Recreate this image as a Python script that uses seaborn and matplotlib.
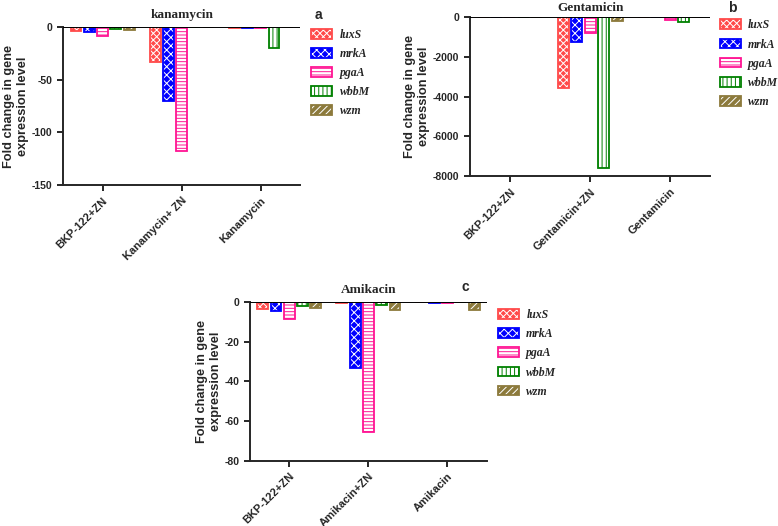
import pandas as pd
import matplotlib.pyplot as plt
import seaborn as sns
from matplotlib.patches import Patch, Rectangle
from matplotlib.legend_handler import HandlerTuple

sns.set_style("ticks")
plt.rcParams["font.family"] = ["Liberation Sans", "DejaVu Sans"]
plt.rcParams["hatch.linewidth"] = 0.7
plt.rcParams["axes.unicode_minus"] = False

genes = ["luxS", "mrkA", "pgaA", "wbbM", "wzm"]
gene_colors = ["#ff4a4a", "#0000ff", "#ff1493", "#008000", "#8c7a3c"]
gene_hatch = ["xxxxx", "xxxx", "-----", "||||", "/////"]
# True -> coloured fill with white hatch, False -> white fill with coloured hatch
gene_filled = [True, True, False, False, True]

# Panel a - kanamycin
kan_groups = ["BKP-122+ZN", "Kanamycin+ ZN", "Kanamycin"]
kan_luxS = [-3.5, -33.3, -1.0]
kan_mrkA = [-4.8, -69.8, -1.0]
kan_pgaA = [-8.3, -118.0, -1.0]
kan_wbbM = [-2.2, 0.0, -20.0]
kan_wzm = [-3.2, 0.0, -0.3]

# Panel b - Gentamicin
gen_groups = ["BKP-122+ZN", "Gentamicin+ZN", "Gentamicin"]
gen_luxS = [-25, -3590, -25]
gen_mrkA = [-25, -1265, -25]
gen_pgaA = [-25, -810, -135]
gen_wbbM = [-25, -7580, -235]
gen_wzm = [-25, -220, -25]

# Panel c - Amikacin
ami_groups = ["BKP-122+ZN", "Amikacin+ZN", "Amikacin"]
ami_luxS = [-3.5, -0.5, -0.2]
ami_mrkA = [-4.7, -33.3, -0.3]
ami_pgaA = [-8.4, -65.5, -0.3]
ami_wbbM = [-2.2, -1.8, -0.1]
ami_wzm = [-3.0, -3.9, -3.9]


def make_df(groups, series):
    rows = []
    for gene, vals in zip(genes, series):
        for g, v in zip(groups, vals):
            rows.append({"group": g, "gene": gene, "value": v})
    return pd.DataFrame(rows)


panels = [
    {
        "df": make_df(kan_groups, [kan_luxS, kan_mrkA, kan_pgaA, kan_wbbM, kan_wzm]),
        "groups": kan_groups, "title": "kanamycin", "ylim": (-150, 0), "pad": 6.5,
        "yticks": [-150, -100, -50, 0], "rect": [0.081, 0.648, 0.305, 0.301],
        "letter": ("a", 0.405, 0.972), "leg": (0.400, 0.945),
    },
    {
        "df": make_df(gen_groups, [gen_luxS, gen_mrkA, gen_pgaA, gen_wbbM, gen_wzm]),
        "groups": gen_groups, "title": "Gentamicin", "ylim": (-8000, 0), "pad": 4.0,
        "yticks": [-8000, -6000, -4000, -2000, 0], "rect": [0.604, 0.665, 0.309, 0.303],
        "letter": ("b", 0.936, 0.985), "leg": (0.925, 0.963),
    },
    {
        "df": make_df(ami_groups, [ami_luxS, ami_mrkA, ami_pgaA, ami_wbbM, ami_wzm]),
        "groups": ami_groups, "title": "Amikacin", "ylim": (-80, 0), "pad": 6.5,
        "yticks": [-80, -60, -40, -20, 0], "rect": [0.321, 0.124, 0.305, 0.302],
        "letter": ("c", 0.593, 0.455), "leg": (0.640, 0.412),
    },
]

fig = plt.figure(figsize=(7.78, 5.26), dpi=100)

for p in panels:
    ax = fig.add_axes(p["rect"])
    sns.barplot(data=p["df"], x="group", y="value", hue="gene", order=p["groups"],
                hue_order=genes, width=0.84, gap=0.18, errorbar=None, legend=False, ax=ax)

    # restyle each gene's bars: pattern + coloured outline
    for cont, col, hatch, filled in zip(ax.containers, gene_colors, gene_hatch, gene_filled):
        for bar in cont:
            if filled:
                bar.set_facecolor(col)
                bar.set_edgecolor("white")
            else:
                bar.set_facecolor("white")
                bar.set_edgecolor(col)
            bar.set_hatch(hatch)
            bar.set_linewidth(0)
            ax.add_patch(Rectangle(bar.get_xy(), bar.get_width(), bar.get_height(),
                                   fill=False, edgecolor=col, linewidth=1.3))

    ax.axhline(0, color="black", linewidth=1.4, zorder=5)
    ax.set_xlim(-0.5, 2.5)
    ax.set_ylim(*p["ylim"])
    ax.set_yticks(p["yticks"])
    ax.set_xlabel("")
    ax.set_ylabel("Fold change in gene\nexpression level", fontsize=9.2,
                  fontweight="bold", labelpad=2)
    ax.set_title(p["title"], family=["Liberation Serif"], fontweight="bold",
                 fontsize=9.5, pad=p["pad"])
    sns.despine(ax=ax)
    for s in ["left", "bottom"]:
        ax.spines[s].set_linewidth(1.4)
    ax.tick_params(width=1.4, length=4, labelsize=7.5)
    for lab in ax.get_yticklabels():
        lab.set_fontweight("bold")
    ax.set_xticks(range(3))
    ax.set_xticklabels(p["groups"], rotation=45, ha="right", rotation_mode="anchor",
                       fontweight="bold", fontsize=8)

    letter, lx, ly = p["letter"]
    fig.text(lx, ly, letter, fontsize=10, fontweight="bold", ha="left", va="center")

    handles = []
    for col, hatch, filled in zip(gene_colors, gene_hatch, gene_filled):
        if filled:
            inner = Patch(facecolor=col, edgecolor="white", hatch=hatch, linewidth=0)
        else:
            inner = Patch(facecolor="white", edgecolor=col, hatch=hatch, linewidth=0)
        outer = Patch(fill=False, edgecolor=col, linewidth=1.3)
        handles.append((inner, outer))
    leg = fig.legend(handles, genes, loc="upper left", bbox_to_anchor=p["leg"],
                     frameon=False, borderpad=0, borderaxespad=0,
                     handlelength=1.8, handleheight=0.9, labelspacing=0.6,
                     handletextpad=0.6,
                     handler_map={tuple: HandlerTuple(ndivide=1, pad=0)},
                     prop={"family": "Liberation Serif", "weight": "bold",
                           "style": "italic", "size": 8.5})

plt.savefig("out.png", dpi=100)
